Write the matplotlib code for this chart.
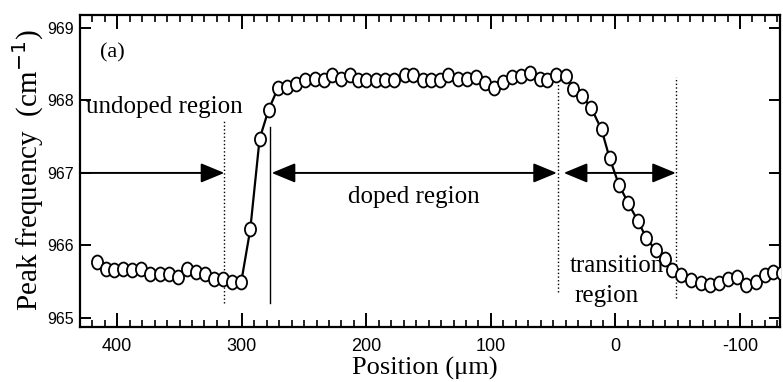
import matplotlib
matplotlib.use("Agg")
import matplotlib.pyplot as plt
from matplotlib import font_manager
from matplotlib.path import Path
from matplotlib.transforms import Affine2D
from matplotlib.ticker import MultipleLocator, FixedLocator

# position (um) and Raman peak frequency (cm^-1)
position = [416.4, 409.4, 402.7, 395.5, 388.3, 381.3, 373.5, 366.0, 358.6, 351.3,
            344.1, 336.5, 329.6, 322.1, 315.2, 307.6, 300.4, 293.2, 285.7, 278.5,
            271.0, 263.8, 256.2, 249.6, 241.5, 234.3, 227.3, 220.1, 213.4, 206.7,
            200.0, 192.5, 185.3, 177.7, 169.2, 162.6, 154.5, 147.8, 141.1, 134.5,
            126.4, 119.2, 112.2, 104.4, 97.8, 90.3, 82.7, 75.5, 68.8, 60.8,
            54.6, 47.4, 39.9, 34.1, 26.5, 19.3, 11.2, 4.6, -2.9, -10.1,
            -18.2, -24.9, -32.4, -39.6, -45.5, -53.0, -61.0, -68.3, -75.7, -83.2,
            -90.4, -97.7, -105.2, -112.7, -119.9, -126.6, -133.6]
peak = [965.77, 965.68, 965.66, 965.67, 965.66, 965.67, 965.61, 965.61, 965.61, 965.57,
        965.67, 965.64, 965.61, 965.54, 965.53, 965.50, 965.50, 966.22, 967.47, 967.87,
        968.17, 968.19, 968.22, 968.28, 968.30, 968.28, 968.35, 968.30, 968.35, 968.28,
        968.28, 968.28, 968.28, 968.28, 968.35, 968.35, 968.28, 968.28, 968.28, 968.35,
        968.30, 968.30, 968.32, 968.24, 968.17, 968.26, 968.33, 968.34, 968.38, 968.30,
        968.28, 968.35, 968.34, 968.16, 968.06, 967.89, 967.60, 967.20, 966.83, 966.59,
        966.33, 966.10, 965.93, 965.81, 965.66, 965.59, 965.52, 965.48, 965.45, 965.48,
        965.54, 965.57, 965.45, 965.50, 965.59, 965.64, 965.62]

# region boundaries (um) and their vertical extent (cm^-1)
boundary_x = [314, 277, 46, -48.4]
boundary_lo = [965.20, 965.20, 965.36, 965.27]
boundary_hi = [967.71, 967.64, 968.24, 968.33]
boundary_ls = [":", "-", ":", ":"]

plt.rcParams["axes.unicode_minus"] = False

serif = ["Liberation Serif", "DejaVu Serif"]
installed = {f.name for f in font_manager.fontManager.ttflist}
if "Liberation Sans Narrow" in installed:
    tick_font = ["Liberation Sans Narrow", "DejaVu Sans"]
    xt_size, yt_size = 15, 13
else:
    tick_font = ["Liberation Sans", "DejaVu Sans"]
    xt_size, yt_size = 13, 11.5

# slightly tall open circles like the scanned figure
ellipse = Path.unit_circle().transformed(Affine2D().scale(0.8, 1.0))

fig = plt.figure(figsize=(7.83, 3.82), dpi=100)
ax = fig.add_axes([0.102, 0.145, 0.894, 0.816])

ax.plot(position, peak, "-", color="black", lw=1.6, zorder=2)
ax.plot(position, peak, ls="none", marker=ellipse, ms=10.0, mfc="white", mec="black",
        mew=1.3, zorder=3)

for bx, lo, hi, ls in zip(boundary_x, boundary_lo, boundary_hi, boundary_ls):
    ax.plot([bx, bx], [lo, hi], ls=ls, color="black", lw=1.0, zorder=1)

arrow = dict(arrowstyle="-|>,head_length=1.45,head_width=0.6", color="black",
             lw=1.4, shrinkA=0, shrinkB=0)
arrow2 = dict(arrow, arrowstyle="<|-|>,head_length=1.45,head_width=0.6")
ax.annotate("", xy=(314, 967.0), xytext=(430, 967.0), arrowprops=arrow)
ax.annotate("", xy=(47, 967.0), xytext=(276, 967.0), arrowprops=arrow2)
ax.annotate("", xy=(-48.5, 967.0), xytext=(41.5, 967.0), arrowprops=arrow2)

ax.text(403.5, 968.66, "(a)", family=serif, fontsize=16, ha="center", va="center")
ax.text(425.4, 967.91, "undoped region", family=serif, fontsize=18, ha="left", va="center")
ax.text(162, 966.67, "doped region", family=serif, fontsize=18, ha="center", va="center")
ax.text(-1, 965.72, "transition", family=serif, fontsize=18, ha="center", va="center")
ax.text(7, 965.30, "region", family=serif, fontsize=18, ha="center", va="center")

ax.set_xlim(430, -132)
ax.set_ylim(964.88, 969.18)

ax.xaxis.set_major_locator(MultipleLocator(100))
ax.xaxis.set_minor_locator(MultipleLocator(10))
ax.yaxis.set_major_locator(FixedLocator([965, 966, 967, 968, 969]))
ax.tick_params(axis="x", which="major", direction="in", length=10, width=1.4,
               top=True, bottom=True, pad=8)
ax.tick_params(axis="x", which="minor", direction="in", length=5, width=1.2,
               top=True, bottom=True)
ax.tick_params(axis="y", which="major", direction="in", length=8, width=1.4,
               left=True, right=True, pad=4)
for lab in ax.get_xticklabels():
    lab.set_family(tick_font)
    lab.set_fontsize(xt_size)
for lab in ax.get_yticklabels():
    lab.set_family(tick_font)
    lab.set_fontsize(yt_size)

for sp in ax.spines.values():
    sp.set_linewidth(1.6)

fig.text(425 / 783, 1 - 375 / 382, "Position (\u03bcm)", family=serif, fontsize=19,
         ha="center", va="baseline")
fig.text(28 / 783, 1 - 170 / 382, "Peak frequency  (cm$^{-1}$)", family=serif,
         fontsize=21, ha="center", va="center", rotation=90)

fig.savefig("out.png", dpi=100)
